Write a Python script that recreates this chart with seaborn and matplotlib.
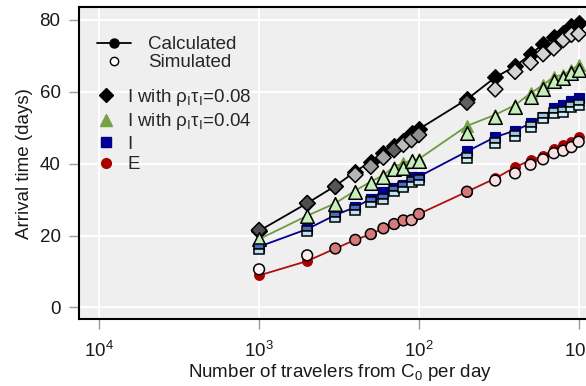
import matplotlib
matplotlib.use("Agg")
import matplotlib.pyplot as plt
import matplotlib.ticker as mticker
from matplotlib.lines import Line2D
import seaborn as sns
import pandas as pd

# ---------------- data ----------------
travelers = [1000, 500, 333.3, 250, 200, 166.7, 142.9, 125, 111.1, 100,
             50, 33.3, 25, 20, 16.7, 14.3, 12.5, 11.1, 10]

i008_calc = [21.3, 29.0, 33.8, 37.8, 40.6, 42.9, 45.0, 46.2, 48.5, 49.6,
             57.9, 64.0, 67.1, 70.4, 73.3, 75.2, 76.3, 78.2, 79.1]
i008_sim = [21.5, 29.0, 33.6, 36.9, 39.2, 41.7, 43.8, 45.3, 46.6, 48.0,
            57.0, 60.7, 65.6, 68.1, 70.5, 72.1, 74.4, 75.9, 76.1]

i004_calc = [19.0, 25.5, 29.0, 32.5, 35.0, 36.8, 39.2, 40.1, 41.0, 41.3,
             50.5, 53.6, 56.3, 59.6, 61.9, 64.2, 64.7, 66.1, 67.5]
i004_sim = [19.0, 25.3, 28.8, 32.2, 34.6, 36.4, 38.5, 38.7, 40.8, 40.8,
            48.5, 53.1, 55.9, 58.5, 60.7, 63.1, 63.8, 65.2, 66.1]

i_calc = [16.9, 21.8, 25.7, 27.9, 30.2, 32.2, 33.2, 34.1, 36.4, 36.4,
          43.4, 47.4, 49.2, 51.2, 53.1, 55.4, 56.3, 57.3, 58.2]
i_sim = [16.3, 21.2, 25.1, 27.1, 29.2, 30.1, 32.5, 33.4, 35.0, 35.5,
         41.5, 45.7, 47.8, 50.3, 52.6, 54.0, 54.5, 55.7, 56.3]

e_calc = [8.9, 12.9, 16.4, 18.8, 20.4, 22.0, 23.2, 24.2, 24.6, 26.0,
          32.2, 35.9, 39.0, 41.0, 42.0, 44.0, 45.2, 46.1, 47.4]
e_sim = [10.6, 14.5, 16.4, 18.8, 20.4, 22.0, 23.2, 24.2, 24.3, 26.0,
         32.2, 35.3, 37.3, 39.7, 41.2, 42.9, 43.6, 44.6, 46.1]

x_ticks = [1e4, 1e3, 1e2, 1e1]
y_ticks = [0, 20, 40, 60, 80]

# ---------------- styles ----------------
diamond_fill = ["#4d4d4d", "#4d4d4d", "#555555", "#b5b5b5", "#9a9a9a", "#a8a8a8",
                "#606060", "#bdbdbd", "#a0a0a0", "#8f8f8f",
                "#606060", "#d3d3d3", "#d3d3d3", "#d3d3d3", "#d3d3d3", "#d3d3d3",
                "#d3d3d3", "#d3d3d3", "#d3d3d3"]
circle_fill = ["#fff6f6", "#fdeeee", "#d47a7a", "#d47a7a", "#d47a7a", "#d47a7a",
               "#d47a7a", "#d47a7a", "#e8a8a8", "#d47a7a",
               "#d47a7a", "#fbe2e2", "#fbe2e2", "#fbe2e2", "#fbe2e2", "#fbe2e2",
               "#fbe2e2", "#fbe2e2", "#fbe2e2"]

BLACK = "#000000"
GREEN_LINE = "#6f9a3e"
GREEN = "#76a044"
GREEN_SIM = "#c4efbd"
NAVY = "#000090"
RED = "#a80000"
RED_LINE = "#b01010"

sns.set_theme(style="darkgrid")
plt.rcParams["font.family"] = ["Liberation Sans", "DejaVu Sans"]
plt.rcParams["mathtext.fontset"] = "custom"
plt.rcParams["mathtext.rm"] = "Liberation Sans"
plt.rcParams["mathtext.it"] = "Liberation Sans:italic"
plt.rcParams["mathtext.bf"] = "Liberation Sans:bold"

FS = 13.5

fig = plt.figure(figsize=(5.86, 3.86), dpi=100)
W, H = 586, 386
left, top, bottom, right = 79.3, 7.3, 319.3, 600.4
ax = fig.add_axes([left / W, 1 - bottom / H, (right - left) / W, (bottom - top) / H])
ax.set_facecolor("#efefef")
ax.set_xscale("log")

# calculated (lines + filled markers)
calc_specs = [
    (i008_calc, BLACK, BLACK, "D", 8.0),
    (i004_calc, GREEN_LINE, GREEN, "^", 9.0),
    (i_calc, NAVY, NAVY, "s", 6.8),
    (e_calc, RED_LINE, RED, "o", 7.0),
]
for vals, lc, mc, mk, ms in calc_specs:
    sns.lineplot(x=travelers, y=vals, ax=ax, color=lc, linewidth=1.3,
                 marker=mk, markersize=ms, markerfacecolor=mc,
                 markeredgecolor=mc, markeredgewidth=0.8, zorder=3)

# simulated
sns.scatterplot(x=travelers, y=i008_sim, hue=diamond_fill,
                palette={c: c for c in diamond_fill}, marker="D", s=62,
                edgecolor="black", linewidth=1.1, legend=False, ax=ax, zorder=4)
sns.scatterplot(x=travelers, y=i004_sim, color=GREEN_SIM, marker="^", s=95,
                edgecolor="black", linewidth=1.1, legend=False, ax=ax, zorder=4)
n_low = 10
ax.plot(travelers[:n_low], i_sim[:n_low], linestyle="none", marker="s",
        markersize=7.2, fillstyle="top", markerfacecolor="#4a6cc2",
        markerfacecoloralt="#bfe3f2", markeredgecolor="black",
        markeredgewidth=1.1, zorder=4)
ax.plot(travelers[n_low:], i_sim[n_low:], linestyle="none", marker="s",
        markersize=7.2, fillstyle="top", markerfacecolor="#9cc6e6",
        markerfacecoloralt="#d0eef8", markeredgecolor="black",
        markeredgewidth=1.1, zorder=4)
sns.scatterplot(x=travelers, y=e_sim, hue=circle_fill,
                palette={c: c for c in circle_fill}, marker="o", s=60,
                edgecolor="black", linewidth=1.1, legend=False, ax=ax, zorder=4)

# axes
ax.set_xlim(10 ** 4.125, 10 ** 0.864)
ax.set_ylim(-3.3, 83.5)
ax.xaxis.set_major_locator(mticker.FixedLocator(x_ticks))
ax.xaxis.set_minor_locator(mticker.NullLocator())
ax.xaxis.set_major_formatter(mticker.LogFormatterMathtext())
ax.set_yticks(y_ticks)
ax.grid(True, which="major", color="white", linewidth=1.4)
ax.tick_params(axis="both", which="major", length=7.5, width=1.0,
               color="#9a9a9a", direction="out", labelsize=FS,
               labelcolor="#1a1a1a", bottom=True, left=True)
ax.tick_params(axis="x", pad=8)
ax.tick_params(axis="y", pad=6)
for s in ["left", "bottom", "top"]:
    ax.spines[s].set_visible(True)
    ax.spines[s].set_color("black")
    ax.spines[s].set_linewidth(1.5)
ax.spines["right"].set_visible(False)

ax.set_xlabel("Number of travelers from C$_0$ per day", fontsize=FS,
              color="#1a1a1a", labelpad=1)
ax.set_ylabel("Arrival time (days)", fontsize=FS, color="#1a1a1a", labelpad=5)

# legends
h1 = [Line2D([], [], color="black", marker="o", markersize=6.5, linewidth=1.3),
      Line2D([], [], linestyle="none", marker="o", markersize=6,
             markerfacecolor="white", markeredgecolor="black", markeredgewidth=1.0)]
leg1 = ax.legend(h1, ["Calculated", "Simulated"], loc="upper left",
                 bbox_to_anchor=(0.034, 0.908), frameon=False, fontsize=FS,
                 handlelength=1.8, handletextpad=0.9, borderpad=0,
                 borderaxespad=0, labelspacing=0.05)
ax.add_artist(leg1)

h2 = [Line2D([], [], linestyle="none", marker="D", markersize=7.5, color=BLACK),
      Line2D([], [], linestyle="none", marker="^", markersize=9, color=GREEN),
      Line2D([], [], linestyle="none", marker="s", markersize=6.5, color=NAVY),
      Line2D([], [], linestyle="none", marker="o", markersize=7, color=RED)]
labels2 = [r"I with ρ$_\mathrm{I}$τ$_\mathrm{I}$=0.08",
           r"I with ρ$_\mathrm{I}$τ$_\mathrm{I}$=0.04", "I", "E"]
leg2 = ax.legend(h2, labels2, loc="upper left", bbox_to_anchor=(0.034, 0.745),
                 frameon=False, fontsize=FS, handlelength=1.0,
                 handletextpad=0.6, borderpad=0, borderaxespad=0,
                 labelspacing=0.18)

fig.savefig("out.png", dpi=100)
